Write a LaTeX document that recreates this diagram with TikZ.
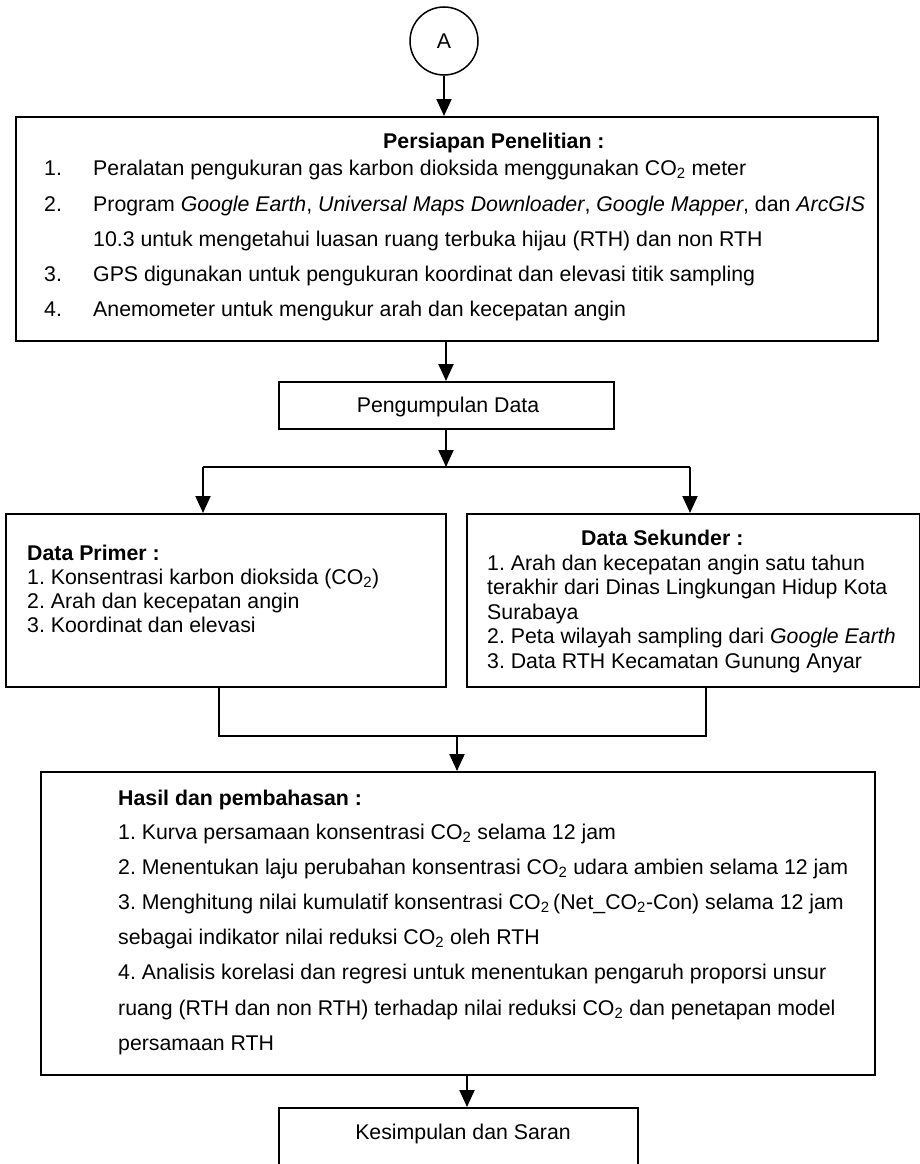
\documentclass[tikz,border=0pt]{standalone}
\usepackage{fontspec}
\setmainfont{Liberation Sans}
\usetikzlibrary{arrows.meta}
\frenchspacing
\newcommand{\mysize}{\fontsize{21.3}{24}\selectfont}
\tikzset{
  box/.style={draw, line width=2pt, inner sep=0pt},
  arr/.style={line width=2pt, -{Triangle[length=17pt,width=15pt]}},
  ln/.style={line width=2pt},
  txt/.style={anchor=base west, inner sep=0pt, font=\mysize},
  btxt/.style={anchor=base west, inner sep=0pt, font=\mysize\bfseries},
  ctxt/.style={anchor=base, inner sep=0pt, font=\mysize},
}
\begin{document}
\begin{tikzpicture}[x=1pt,y=-1pt]
\useasboundingbox (0,0) rectangle (920,1164);
\clip (0,0) rectangle (920,1164);
% connector A
\node[circle, draw, line width=1.5pt, minimum size=68pt, inner sep=0pt, font=\mysize] (A) at (444,41) {A};
% boxes
\node[box, anchor=north west, minimum width=862pt, minimum height=224pt] (b1) at (15,116) {};
\node[box, anchor=north west, minimum width=335pt, minimum height=47pt] (b2) at (278,381) {};
\node[box, anchor=north west, minimum width=440pt, minimum height=173pt] (b3) at (5,513) {};
\node[box, anchor=north west, minimum width=453pt, minimum height=173pt] (b4) at (466,513) {};
\node[box, anchor=north west, minimum width=834pt, minimum height=303pt] (b5) at (40,771) {};
\node[box, anchor=north west, minimum width=359pt, minimum height=90pt] (b6) at (278,1107) {};
% junction coordinates
\coordinate (j1) at (446,467);
\coordinate (jl) at (203,467);
\coordinate (jr) at (690,467);
\coordinate (ml) at (219,736);
\coordinate (mr) at (706,736);
\coordinate (mc) at (457,736);
\coordinate (b1s) at (446,340);
\coordinate (b2s) at (446,428);
\coordinate (b5s) at (467,1074);
% connectors
\draw[arr] (A.south) -- (A.south |- b1.north);
\draw[arr] (b1s) -- (b1s |- b2.north);
\draw[arr] (b2s) -- (j1);
\draw[ln] (jl) -- (jr);
\draw[arr] (jl) -- (jl |- b3.north);
\draw[arr] (jr) -- (jr |- b4.north);
\draw[ln] (ml |- b3.south) -- (ml) -- (mr) -- (mr |- b4.south);
\draw[arr] (mc) -- (mc |- b5.north);
\draw[arr] (b5s) -- (b5s |- b6.north);
% texts box 1
\node[btxt] (t1) at (383,148) {Persiapan Penelitian :};
\node[txt] (n11) at (44,175) {1.};
\node[txt] (t11) at (93,175) {Peralatan pengukuran gas karbon dioksida menggunakan CO\textsubscript{2} meter};
\node[txt] (n12) at (44,211) {2.};
\node[txt] (t12) at (93,211) {Program \textit{Google Earth}, \textit{Universal Maps Downloader}, \textit{Google Mapper}, dan \textit{ArcGIS}};
\node[txt] (t12b) at (93,246) {10.3 untuk mengetahui luasan ruang terbuka hijau (RTH) dan non RTH};
\node[txt] (n13) at (44,281) {3.};
\node[txt] (t13) at (93,281) {GPS digunakan untuk pengukuran koordinat dan elevasi titik sampling};
\node[txt] (n14) at (44,316) {4.};
\node[txt] (t14) at (93,316) {Anemometer untuk mengukur arah dan kecepatan angin};
% box 2
\node[ctxt] (t2) at (448,412) {Pengumpulan Data};
% box 3
\node[btxt] (t3) at (27,560) {Data Primer :};
\node[txt] (t31) at (27,584) {1. Konsentrasi karbon dioksida (CO\textsubscript{2})};
\node[txt] (t32) at (27,608) {2. Arah dan kecepatan angin};
\node[txt] (t33) at (27,632) {3. Koordinat dan elevasi};
% box 4
\node[btxt] (t4) at (581,545) {Data Sekunder :};
\node[txt] (t41) at (487,570) {1. Arah dan kecepatan angin satu tahun};
\node[txt] (t42) at (487,594.5) {terakhir dari Dinas Lingkungan Hidup Kota};
\node[txt] (t43) at (487,619) {Surabaya};
\node[txt] (t44) at (487,643.5) {2. Peta wilayah sampling dari \textit{Google Earth}};
\node[txt] (t45) at (487,668) {3. Data RTH Kecamatan Gunung Anyar};
% box 5
\node[btxt] (t5) at (118,805) {Hasil dan pembahasan :};
\node[txt] (t51) at (118,839) {1. Kurva persamaan konsentrasi CO\textsubscript{2} selama 12 jam};
\node[txt] (t52) at (118,874) {2. Menentukan laju perubahan konsentrasi CO\textsubscript{2} udara ambien selama 12 jam};
\node[txt] (t53) at (118,909) {3. Menghitung nilai kumulatif konsentrasi CO\textsubscript{2}\,(Net\_CO\textsubscript{2}-Con) selama 12 jam};
\node[txt] (t54) at (118,944) {sebagai indikator nilai reduksi CO\textsubscript{2} oleh RTH};
\node[txt] (t55) at (118,979) {4. Analisis korelasi dan regresi untuk menentukan pengaruh proporsi unsur};
\node[txt] (t56) at (118,1015) {ruang (RTH dan non RTH) terhadap nilai reduksi CO\textsubscript{2} dan penetapan model};
\node[txt] (t57) at (118,1050) {persamaan RTH};
% box 6
\node[ctxt] (t6) at (463,1139) {Kesimpulan dan Saran};
\end{tikzpicture}
\end{document}
